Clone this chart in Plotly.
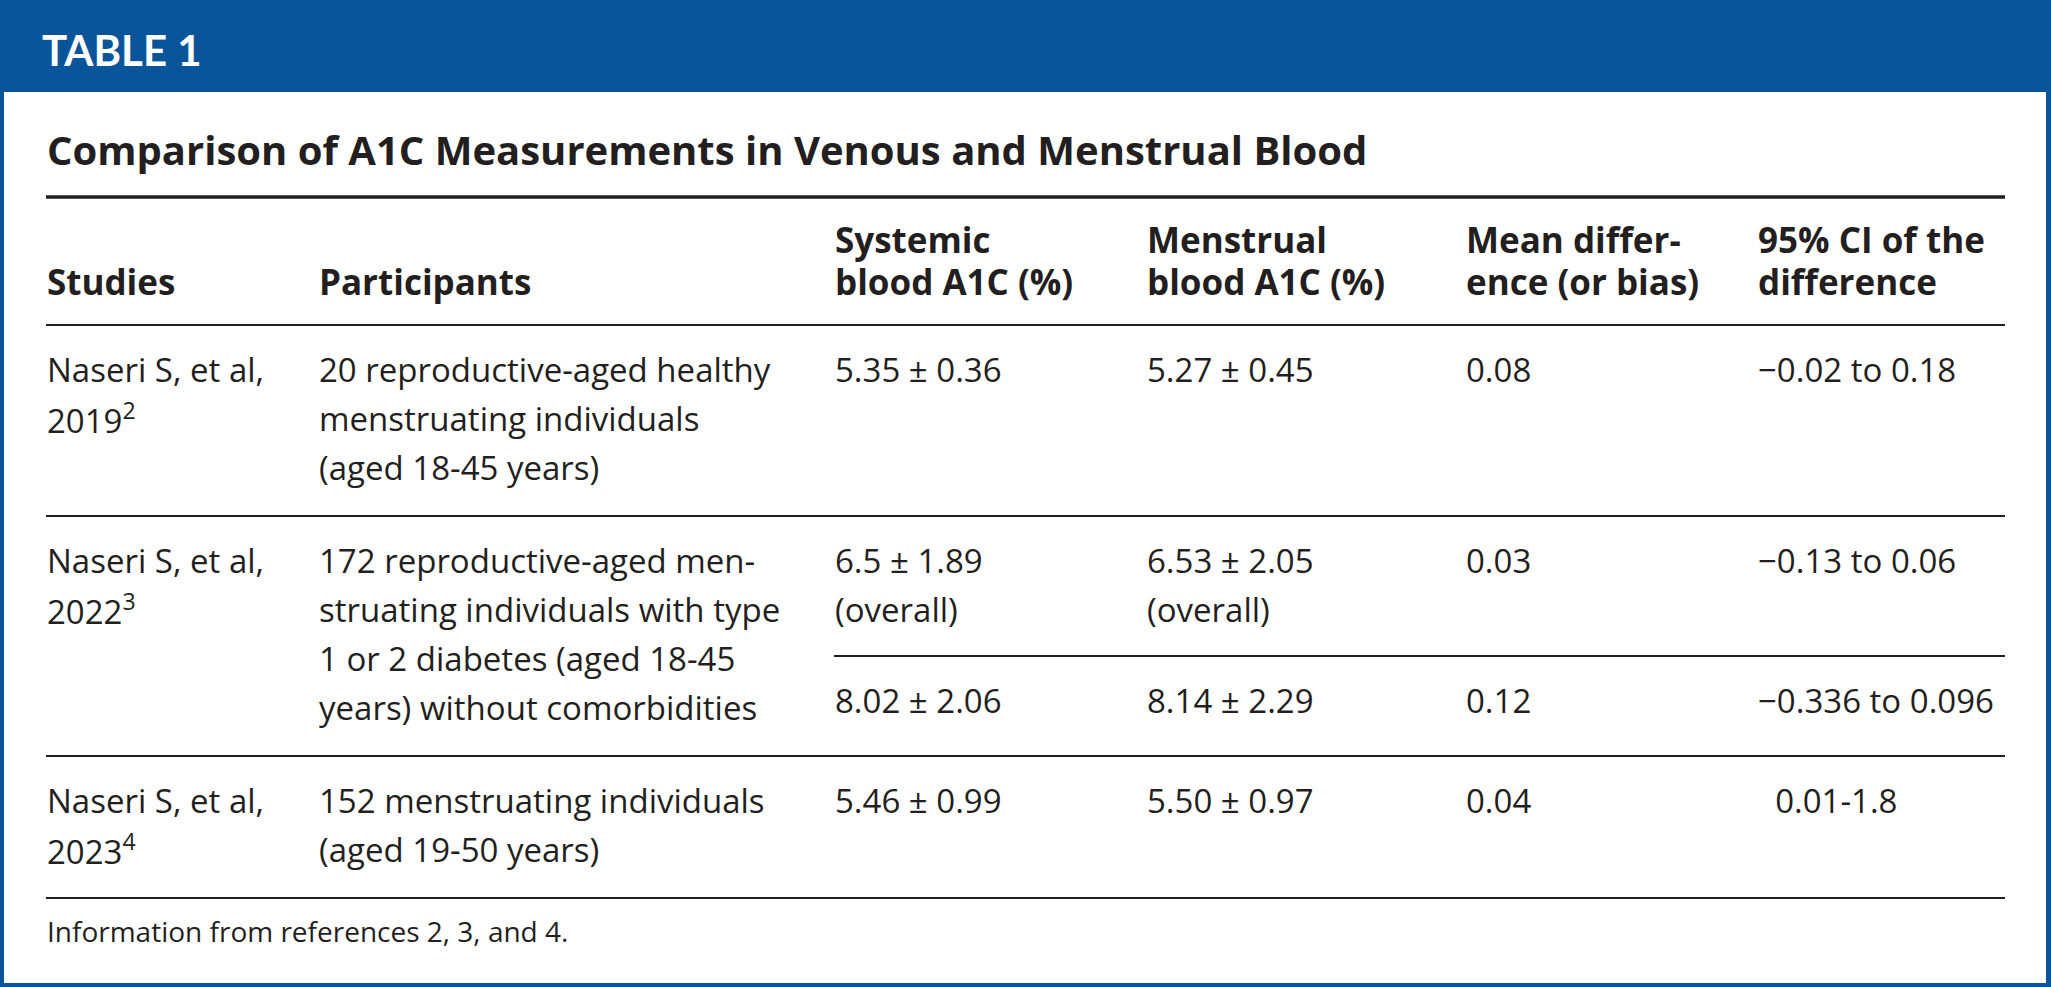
import plotly.graph_objects as go

# ---------------- data ----------------
table_label = "TABLE 1"
title = "Comparison of A1C Measurements in Venous and Menstrual Blood"
headers = ["Studies", "Participants", "Systemic<br>blood A1C (%)", "Menstrual<br>blood A1C (%)",
           "Mean differ-<br>ence (or bias)", "95% CI of the<br>difference"]
studies = ["Naseri S, et al,<br>2019<sup>2</sup>",
           "Naseri S, et al,<br>2022<sup>3</sup>",
           "Naseri S, et al,<br>2023<sup>4</sup>"]
participants = ["20 reproductive-aged healthy<br>menstruating individuals<br>(aged 18-45 years)",
                "172 reproductive-aged men-<br>struating individuals with type<br>1 or 2 diabetes (aged 18-45<br>years) without comorbidities",
                "152 menstruating individuals<br>(aged 19-50 years)"]
# measurement rows; study 2 has two measurement rows
row_study = [0, 1, 1, 2]
systemic = ["5.35 ± 0.36", "6.5 ± 1.89<br>(overall)", "8.02 ± 2.06", "5.46 ± 0.99"]
menstrual = ["5.27 ± 0.45", "6.53 ± 2.05<br>(overall)", "8.14 ± 2.29", "5.50 ± 0.97"]
mean_diff = ["0.08", "0.03", "0.12", "0.04"]
ci_diff = ["\u22120.02 to 0.18", "\u22120.13 to 0.06", "\u22120.336 to 0.096", "\u00a0\u00a00.01-1.8"]
footnote = "Information from references 2, 3, and 4."

# ---------------- layout / style ----------------
W, H = 2051, 987
BLUE = "#0A5499"
INK = "#231F20"
FONT = "Open Sans"
COL_X = [46, 318, 834, 1146, 1465, 1757]
X_L, X_R = 46, 2005
LINE = 49          # body line spacing
FIRST = 44         # offset from a rule to first line centre
SUB_GAP = 47       # last line to sub rule
ROW_GAP = 49       # last line to row rule
BODY_SIZE = 33

fig = go.Figure()
fig.update_layout(
    width=W, height=H, margin=dict(l=0, r=0, t=0, b=0),
    paper_bgcolor="white", plot_bgcolor="white", showlegend=False,
    xaxis=dict(range=[0, W], visible=False, fixedrange=True),
    yaxis=dict(range=[H, 0], visible=False, fixedrange=True),
)

shapes = []
ann = []

def rect(x0, y0, x1, y1, color):
    shapes.append(dict(type="rect", xref="x", yref="y", x0=x0, y0=y0, x1=x1, y1=y1,
                       fillcolor=color, line=dict(width=0), layer="below"))

def hline(y, x0, x1, w):
    shapes.append(dict(type="line", xref="x", yref="y", x0=x0, x1=x1, y0=y, y1=y,
                       line=dict(color=INK, width=w)))

def text(x, y, s, size, color=INK, weight="normal", family=FONT):
    ann.append(dict(x=x, y=y, xref="x", yref="y", text=s, showarrow=False,
                    xanchor="left", yanchor="middle", align="left", borderpad=0,
                    font=dict(family=family, size=size, color=color, weight=weight)))

def lines_at(x, y0, s, size=BODY_SIZE, step=LINE, **kw):
    parts = s.split("<br>")
    for i, p in enumerate(parts):
        text(x, y0 + i * step, p, size, **kw)
    return y0 + (len(parts) - 1) * step

# frame
rect(0, 0, W, H, BLUE)
rect(4, 92, W - 5, H - 4, "white")
text(41, 50, table_label, 42, color="white", weight="bold", family="Lato")

# title
text(X_L, 149, title, 40, weight="bold")
hline(197, X_L, X_R, 3.3)

# headers (bottom aligned)
HDR_LAST = 281
for x, h in zip(COL_X, headers):
    parts = h.split("<br>")
    y0 = HDR_LAST - (len(parts) - 1) * 42
    lines_at(x, y0, h, size=35, step=42, weight="bold")
hdr_rule = 325
hline(hdr_rule, X_L, X_R, 2)

# body
top = hdr_rule
for s_idx in range(len(studies)):
    y_first = top + FIRST
    last_s = lines_at(COL_X[0], y_first, studies[s_idx])
    last_p = lines_at(COL_X[1], y_first, participants[s_idx])
    rows = [i for i, r in enumerate(row_study) if r == s_idx]
    y = y_first
    last_v = y
    for k, i in enumerate(rows):
        if k > 0:
            sub_rule = last_v + SUB_GAP
            hline(sub_rule, COL_X[2], X_R, 2)
            y = sub_rule + FIRST
        ends = [lines_at(COL_X[2], y, systemic[i]),
                lines_at(COL_X[3], y, menstrual[i]),
                lines_at(COL_X[4], y, mean_diff[i]),
                lines_at(COL_X[5], y, ci_diff[i])]
        last_v = max(ends)
    last = max(last_s, last_p, last_v)
    top = last + ROW_GAP
    hline(top, X_L, X_R, 2)

text(X_L, top + 33, footnote, 28)

fig.update_layout(shapes=shapes, annotations=ann)
fig.write_html("out.html", config={"displayModeBar": False},
               post_script="document.body.style.margin='0';document.body.style.overflow='hidden';")
